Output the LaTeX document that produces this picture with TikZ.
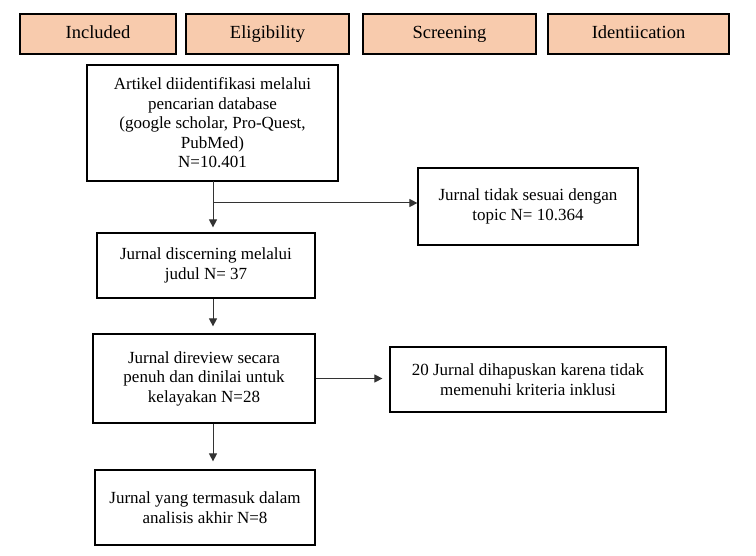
\documentclass[tikz,border=0pt]{standalone}
\usepackage{fontspec}
\setmainfont{Liberation Serif}
\usetikzlibrary{arrows.meta}
\definecolor{peach}{HTML}{F8CBAD}

\begin{document}
\begin{tikzpicture}[x=1pt,y=-1pt,
    box/.style={draw,line width=1.2pt,align=center,inner sep=0pt,
      font=\fontsize{17}{19.5}\selectfont},
    head/.style={draw,line width=1.2pt,inner sep=0pt,fill=peach,
      text height=13pt,text depth=4pt,font=\fontsize{18.5}{20}\selectfont},
    arr/.style={-{Triangle[length=8pt,width=8pt]},line width=1pt,draw=black!80}]
  \useasboundingbox (0,0) rectangle (756,556);
  \foreach \n/\x/\w/\t in{inc/98/156/Included, eli/267.5/163/Eligibility,
                          scr/449.5/173/Screening, ide/638.5/181/Identiication}{
    \node[head,minimum width=\w pt,minimum height=40pt] (\n) at(\x,34){\t};
  }
  \node[box,minimum width=251pt,minimum height=116pt] (art) at(212.5,123)
    {Artikel diidentifikasi melalui\\pencarian database\\(google scholar, Pro-Quest,\\PubMed)\\N=10.401};
  \node[box,minimum width=218pt,minimum height=65pt] (jud) at(206,265.5)
    {Jurnal discerning melalui\\judul N= 37};
  \node[box,minimum width=222pt,minimum height=89pt] (rev) at(204,378.5)
    {Jurnal direview secara\\penuh dan dinilai untuk\\kelayakan N=28};
  \node[box,minimum width=220pt,minimum height=75pt] (akh) at(205,507.5)
    {Jurnal yang termasuk dalam\\analisis akhir N=8};
  \node[box,minimum width=220pt,minimum height=77pt] (tdk) at(528,206.5)
    {Jurnal tidak sesuai dengan\\topic N= 10.364};
  \node[box,minimum width=276pt,minimum height=65pt] (hps) at(528,379.5)
    {20 Jurnal dihapuskan karena tidak\\memenuhi kriteria inklusi};
  \coordinate (top) at(213,181);
  \coordinate (br) at(213,203);
  \draw[arr,shorten >=5pt] (top) -- (top |- jud.north);
  \draw[arr] (br) -- (br -| tdk.west);
  \draw[arr,shorten >=7pt] (top |- jud.south) -- (top |- rev.north);
  \draw[arr,shorten >=8pt] (top |- rev.south) -- (top |- akh.north);
  \draw[arr,shorten >=7pt] (rev.east) -- (rev.east -| hps.west);
\end{tikzpicture}
\end{document}
